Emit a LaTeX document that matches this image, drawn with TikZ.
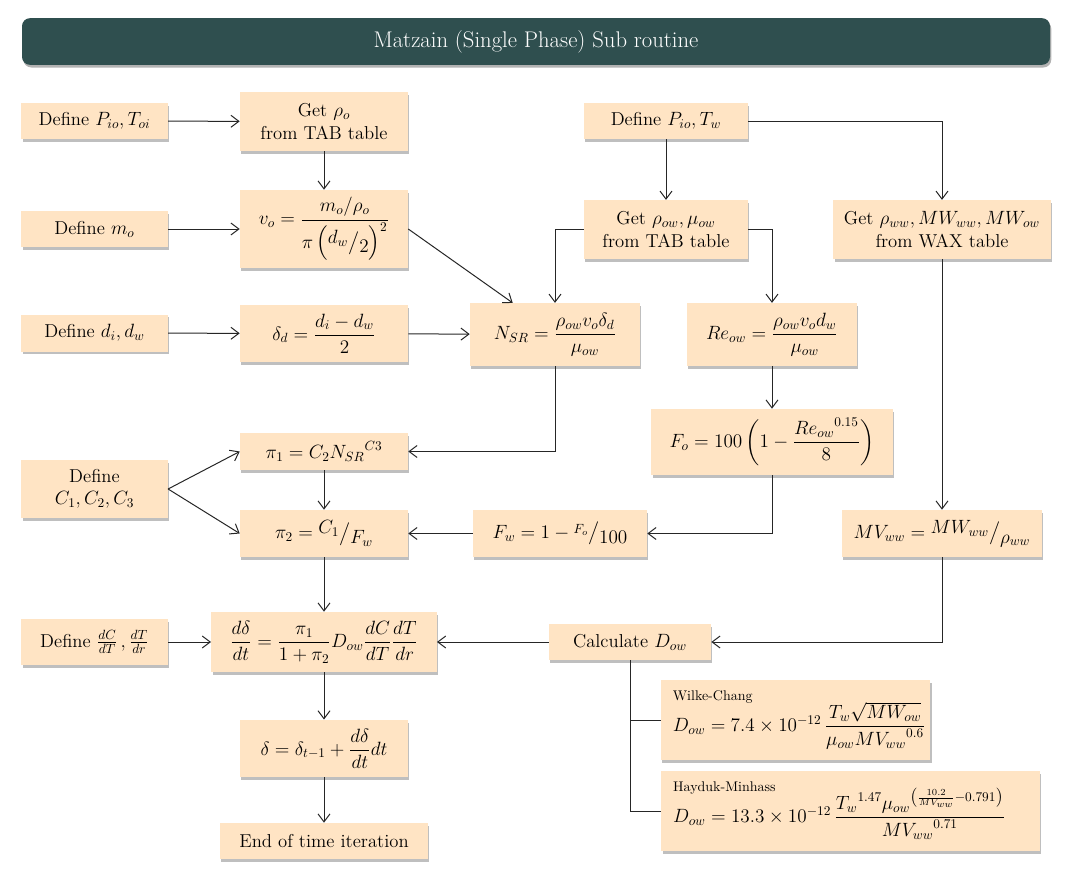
\documentclass[tikz,border=0pt]{standalone}
\usepackage{amsmath}
\usetikzlibrary{arrows.meta,shadows,calc}

\definecolor{peach}{RGB}{255,228,196}
\definecolor{slate}{RGB}{47,79,79}

\tikzset{
    box/.style={rectangle, fill=peach, align=center, inner sep=0pt,
        drop shadow={shadow xshift=1pt, shadow yshift=-2pt, fill=black, opacity=0.25},
        font=\fontsize{14}{16.8}\selectfont},
    corrbox/.style={box, align=left, inner xsep=9pt},
    titlebox/.style={rectangle, rounded corners=6pt, fill=slate, text=white,
        drop shadow={shadow xshift=1pt, shadow yshift=-2pt, fill=black, opacity=0.3},
        font=\fontsize{17}{20}\selectfont},
    arr/.style={-{Straight Barb[length=6pt,width=9pt]}, black!85, line width=0.75pt},
    link/.style={black!85, line width=0.75pt}
}

\begin{document}
\begin{tikzpicture}[x=0.75pt, y=-0.75pt]
    \useasboundingbox (0,0) rectangle (1072,882);

    % Title bar
    \node[titlebox, minimum width=771pt, minimum height=35pt] (title) at (536,41.5) {Matzain (Single Phase) Sub routine};

    % First row: inputs and table look-ups
    \node[box, minimum width=110pt, minimum height=27pt] (defPo) at (94.5,121) {Define $P_{io}, T_{oi}$};
    \node[box, minimum width=126pt, minimum height=44pt] (getRo) at (324,121.5) {Get $\rho_o$\\from TAB table};
    \node[box, minimum width=123pt, minimum height=27pt] (defPw) at (666,121) {Define $P_{io}, T_w$};

    % Second row
    \node[box, minimum width=110pt, minimum height=27pt] (defMo) at (94.5,229) {Define $m_o$};
    \node[box, minimum width=126pt, minimum height=58.5pt] (velo) at (324,229) {$v_o = \dfrac{m_o/\rho_o}{\pi\left(\raisebox{.6ex}{$d_w$}\big/\raisebox{-.6ex}{$2$}\right)^2}$};
    \node[box, minimum width=123pt, minimum height=44pt] (getRow) at (666,229.5) {Get $\rho_{ow}, \mu_{ow}$\\from TAB table};
    \node[box, minimum width=163pt, minimum height=44pt] (getRww) at (942,229.5) {Get $\rho_{ww}, MW_{ww}, MW_{ow}$\\from WAX table};

    % Third row
    \node[box, minimum width=110pt, minimum height=27.75pt] (defD) at (94.5,333) {Define $d_i, d_w$};
    \node[box, minimum width=126pt, minimum height=43pt] (deltaD) at (324,333.5) {$\delta_d = \dfrac{d_i - d_w}{2}$};
    \node[box, minimum width=127.5pt, minimum height=47pt] (nsr) at (555,334.5) {$N_{SR} = \dfrac{\rho_{ow} v_o \delta_d}{\mu_{ow}}$};
    \node[box, minimum width=127.5pt, minimum height=47pt] (reow) at (772,334.5) {$Re_{ow} = \dfrac{\rho_{ow} v_o d_w}{\mu_{ow}}$};

    % Fourth row
    \node[box, minimum width=181pt, minimum height=49.5pt] (fo) at (772,442) {$F_o = 100\left(1 - \dfrac{{Re_{ow}}^{0.15}}{8}\right)$};
    \node[box, minimum width=126pt, minimum height=27.75pt] (pione) at (324,451.5) {$\pi_1 = C_2 {N_{SR}}^{C3}$};
    \node[box, minimum width=110pt, minimum height=43.5pt] (defC) at (94.5,489) {Define\\$C_1, C_2, C_3$};
    \node[box, minimum width=126pt, minimum height=35.25pt] (pitwo) at (324,533.5) {$\pi_2 = \raisebox{.6ex}{$C_1$}\big/\raisebox{-.6ex}{$F_w$}$};
    \node[box, minimum width=130.5pt, minimum height=35.25pt] (fw) at (560,533.5) {$F_w = 1 - \raisebox{.6ex}{$\scriptstyle F_o$}\big/\raisebox{-.6ex}{$100$}$};
    \node[box, minimum width=150pt, minimum height=35.25pt] (mvww) at (942,533.5) {$MV_{ww} = \raisebox{.6ex}{$MW_{ww}$}\big/\raisebox{-.6ex}{$\rho_{ww}$}$};

    % Fifth row
    \node[box, minimum width=110pt, minimum height=34.5pt] (defDC) at (94.5,642) {Define $\frac{dC}{dT}\,,\frac{dT}{dr}$};
    \node[box, minimum width=169pt, minimum height=45pt] (ddelta) at (324,642) {$\dfrac{d\delta}{dt} = \dfrac{\pi_1}{1 + \pi_2} D_{ow} \dfrac{dC}{dT}\dfrac{dT}{dr}$};
    \node[box, minimum width=121.5pt, minimum height=27pt] (calcD) at (630,642) {Calculate $D_{ow}$};

    % Diffusion correlations
    \node[corrbox, text width=184pt, minimum height=60pt] (wilke) at (795.5,720) {{\fontsize{10.5}{12}\selectfont Wilke-Chang}\\[-2pt]\mbox{$D_{ow} = 7.4 \times 10^{-12}\,\dfrac{T_w\sqrt{MW_{ow}}}{\mu_{ow}{MV_{ww}}^{0.6}}$}};
    \node[corrbox, text width=266pt, minimum height=60pt] (hayduk) at (850.5,811) {{\fontsize{10.5}{12}\selectfont Hayduk-Minhass}\\[-6pt]\mbox{$D_{ow} = 13.3 \times 10^{-12}\,\dfrac{{T_w}^{1.47}{\mu_{ow}}^{\left(\frac{10.2}{MV_{ww}}-0.791\right)}}{{MV_{ww}}^{0.71}}$}};

    % Time step and end
    \node[box, minimum width=126pt, minimum height=43pt] (delta) at (324,748.5) {$\delta = \delta_{t-1} + \dfrac{d\delta}{dt}dt$};
    \node[box, minimum width=156pt, minimum height=27pt] (endIt) at (324,841) {End of time iteration};

    % Connectors
    \draw[arr] (defPo) -- (getRo);
    \draw[arr] (getRo) -- (velo);
    \draw[arr] (defMo) -- (velo);
    \draw[arr] (velo.east) -- ($(nsr.north west)+(43,0)$);
    \draw[arr] (defPw) -- (getRow);
    \draw[arr] (defPw.east) -| (getRww.north);
    \draw[arr] (getRow.west) -| (nsr.north);
    \draw[arr] (getRow.east) -| (reow.north);
    \draw[arr] (defD) -- (deltaD);
    \draw[arr] (deltaD) -- (nsr);
    \draw[arr] (reow) -- (fo);
    \draw[arr] (nsr.south) |- (pione.east);
    \draw[arr] (fo.south) |- (fw.east);
    \draw[arr] (fw) -- (pitwo);
    \draw[arr] (defC.east) -- (pione.west);
    \draw[arr] (defC.east) -- (pitwo.west);
    \draw[arr] (pione) -- (pitwo);
    \draw[arr] (pitwo) -- (ddelta);
    \draw[arr] (getRww) -- (mvww);
    \draw[arr] (mvww.south) |- (calcD.east);
    \draw[arr] (calcD) -- (ddelta);
    \draw[arr] (defDC) -- (ddelta);
    \draw[arr] (ddelta) -- (delta);
    \draw[arr] (delta) -- (endIt);
    \draw[link] (calcD.south) |- (wilke.west);
    \draw[link] (calcD.south) |- (hayduk.west);
\end{tikzpicture}
\end{document}
